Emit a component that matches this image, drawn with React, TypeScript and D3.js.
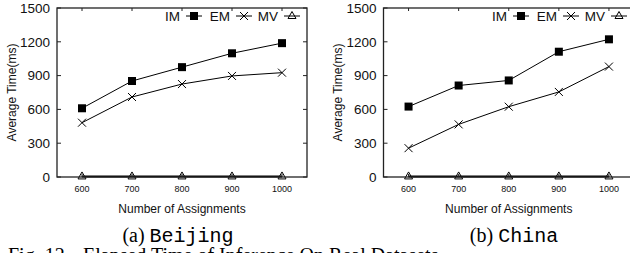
import * as d3 from 'd3';

// number of assignments on the x axis
const assignments = [600, 700, 800, 900, 1000];
const yTicks = [0, 300, 600, 900, 1200, 1500];

// Beijing
const beijingIM = [610, 852, 975, 1098, 1188];
const beijingEM = [482, 710, 825, 897, 926];
const beijingMV = [5, 5, 5, 5, 5];

// China
const chinaIM = [625, 812, 857, 1112, 1222];
const chinaEM = [256, 467, 624, 755, 980];
const chinaMV = [5, 5, 5, 5, 5];

const seriesNames = ['IM', 'EM', 'MV'];

const W = 630;
const H = 253;
const FONT = "'Liberation Sans', Arial, sans-serif";
const SERIF = "'Liberation Serif', 'Times New Roman', serif";
const MONO = "'Liberation Mono', 'Courier New', monospace";

function Marker({ kind, x, y }: { kind: string; x: number; y: number }) {
  if (kind === 'IM') return <rect x={x - 4} y={y - 4} width={8} height={8} fill="#000" />;
  if (kind === 'EM')
    return (
      <path d={`M${x - 4},${y - 4}L${x + 4},${y + 4}M${x - 4},${y + 4}L${x + 4},${y - 4}`} stroke="#000" strokeWidth={1} />
    );
  return <path d={`M${x},${y - 4.5}L${x + 4},${y + 2.5}L${x - 4},${y + 2.5}Z`} fill="none" stroke="#000" strokeWidth={1} />;
}

function Panel({ left, right, series, ylabelX }: { left: number; right: number; series: number[][]; ylabelX: number }) {
  const top = 8;
  const bottom = 177;
  const x = d3.scaleLinear().domain([550, 1050]).range([left, right]);
  const y = d3.scaleLinear().domain([0, 1500]).range([bottom, top]);
  const line = d3.line<number>().x((_, i) => x(assignments[i])).y(d => y(d));
  const legendOffsets = [113, 63, 15];
  const mid = (left + right) / 2;

  return (
    <g>
      {/* data */}
      {series.map((vals, s) => (
        <g key={s}>
          <path d={line(vals) || ''} fill="none" stroke="#000" strokeWidth={s === 2 ? 2 : 1} />
          {vals.map((v, i) => (
            <Marker key={i} kind={seriesNames[s]} x={x(assignments[i])} y={y(v)} />
          ))}
        </g>
      ))}

      {/* frame */}
      <rect x={left} y={top} width={right - left} height={bottom - top} fill="none" stroke="#222" strokeWidth={1.3} />

      {/* y ticks */}
      {yTicks.map(t => (
        <g key={t}>
          <line x1={left} x2={left + 4} y1={y(t)} y2={y(t)} stroke="#222" />
          <line x1={right} x2={right - 4} y1={y(t)} y2={y(t)} stroke="#222" />
          <text x={left - 7} y={y(t)} dy="0.36em" textAnchor="end" fontSize={13.5} fontFamily={FONT} fill="#111">
            {t}
          </text>
        </g>
      ))}

      {/* x ticks */}
      {assignments.map(a => (
        <g key={a}>
          <line x1={x(a)} x2={x(a)} y1={bottom} y2={bottom - 3} stroke="#222" />
          <line x1={x(a)} x2={x(a)} y1={top} y2={top + 3} stroke="#222" />
          <text x={x(a)} y={192} textAnchor="middle" fontSize={9} fontFamily={FONT} fill="#111">
            {a}
          </text>
        </g>
      ))}

      <text x={mid} y={213} textAnchor="middle" fontSize={12} fontFamily={FONT} fill="#111">
        Number of Assignments
      </text>
      <text
        transform={`translate(${ylabelX},${(top + bottom) / 2}) rotate(-90)`}
        textAnchor="middle"
        dy="0.35em"
        fontSize={12}
        fontFamily={FONT}
        fill="#111"
      >
        Average Time(ms)
      </text>

      {/* legend */}
      {seriesNames.map((name, s) => {
        const cx = right - legendOffsets[s];
        return (
          <g key={name}>
            <text x={cx - 14} y={16} dy="0.36em" textAnchor="end" fontSize={13.5} fontFamily={FONT} fill="#111">
              {name}
            </text>
            <line x1={cx - 8} x2={cx + 8} y1={16} y2={16} stroke="#000" />
            <Marker kind={name} x={cx} y={16} />
          </g>
        );
      })}
    </g>
  );
}

export default function App() {
  return (
    <svg width={W} height={H} style={{ position: 'absolute', left: 0, top: 0, background: '#fff' }}>
      <rect width={W} height={H} fill="#fff" />
      <Panel left={57} right={307} series={[beijingIM, beijingEM, beijingMV]} ylabelX={12} />
      <Panel left={383.5} right={634} series={[chinaIM, chinaEM, chinaMV]} ylabelX={338} />

      <text x={178} y={242} textAnchor="middle" fontSize={20} fill="#000">
        <tspan fontFamily={SERIF}>(a) </tspan>
        <tspan fontFamily={MONO}>Beijing</tspan>
      </text>
      <text x={514} y={242} textAnchor="middle" fontSize={20} fill="#000">
        <tspan fontFamily={SERIF}>(b) </tspan>
        <tspan fontFamily={MONO}>China</tspan>
      </text>
      <text x={8} y={262} fontSize={20} fontFamily={SERIF} fill="#000">
        Fig. 12.
      </text>
      <text x={83} y={262} fontSize={20} fontFamily={SERIF} fill="#000">
        Elapsed Time of Inference On Real Datasets
      </text>
    </svg>
  );
}
